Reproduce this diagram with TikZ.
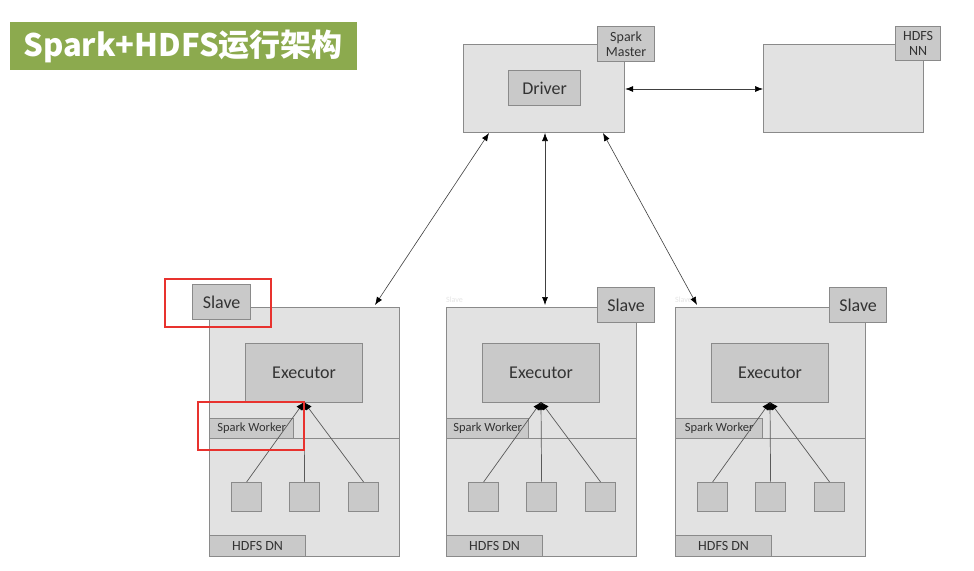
\documentclass[tikz,border=0pt]{standalone}
\usepackage{fontspec}
\setmainfont{Carlito}
\newfontfamily\cjk{Noto Sans CJK SC}
\usetikzlibrary{arrows.meta}
\definecolor{titlegreen}{HTML}{8CAA4E}
\definecolor{boxfill}{HTML}{E2E2E2}
\definecolor{innerfill}{HTML}{C9C9C9}
\definecolor{edgegray}{HTML}{8A8A8A}
\definecolor{txtgray}{HTML}{333333}
\definecolor{hlred}{HTML}{E8322E}
\tikzset{
  outerbox/.style={draw=edgegray, fill=boxfill, line width=1.2pt},
  innerbox/.style={draw=edgegray, fill=innerfill, line width=1.2pt, text=txtgray, inner sep=0pt, align=center},
  conn/.style={draw=black!75, line width=0.6pt, {Latex[length=8pt,width=6pt,color=black]}-{Latex[length=8pt,width=6pt,color=black]}},
  treeline/.style={draw=black!65, line width=0.7pt, -{Latex[length=8pt,width=7pt,color=black]}},
  redbox/.style={draw=hlred, line width=2pt},
  faint/.style={text=black!10, font=\fontsize{8}{8}\selectfont, inner sep=0pt}
}
\newcommand{\slaveunit}[2]{% prefix, x offset (left of box)
  \begin{scope}[shift={(#2,0)}]
    \node[outerbox, anchor=north west, minimum width=190, minimum height=249, inner sep=0pt] (#1box) at (0,307) {};
    \draw[draw=edgegray, line width=0.8pt] (0,438) -- (190,438);
    \node[innerbox, anchor=north west, minimum width=117, minimum height=59, font=\fontsize{18}{18}\selectfont] (#1exec) at (36,343) {Executor};
    \node[innerbox, anchor=north west, minimum width=30, minimum height=29] (#1s1) at (22,482) {};
    \node[innerbox, anchor=north west, minimum width=30, minimum height=29] (#1s2) at (80,482) {};
    \node[innerbox, anchor=north west, minimum width=30, minimum height=29] (#1s3) at (139,482) {};
    \node[innerbox, anchor=north west, minimum width=96, minimum height=21, font=\fontsize{14}{14}\selectfont] (#1dn) at (0,535) {HDFS DN};
    \coordinate (#1join) at (95,402);
  \end{scope}
}
\newcommand{\slavetree}[1]{%
    \draw[treeline] (#1s1.north) -- (#1join);
    \draw[treeline] (#1s2.north) -- (#1join);
    \draw[treeline] (#1s3.north) -- (#1join);
}
\begin{document}
\begin{tikzpicture}[x=1pt,y=-1pt]
\useasboundingbox[fill=white] (0,0) rectangle (974,570);
% title
\node[fill=titlegreen, anchor=north west, minimum width=347, minimum height=48, inner sep=0pt] (title) at (10,22) {};
\node[text=white, font=\cjk\bfseries\fontsize{31}{31}\selectfont, anchor=center] (titletext) at (183,46) {Spark+HDFS运行架构};

% master
\node[outerbox, anchor=north west, minimum width=161, minimum height=88, inner sep=0pt] (master) at (463,44) {};
\node[innerbox, anchor=north west, minimum width=72, minimum height=35, font=\fontsize{18}{18}\selectfont] (driver) at (508,70) {Driver};
\node[innerbox, anchor=north west, minimum width=57, minimum height=35, font=\fontsize{14}{15}\selectfont] (masterlbl) at (597,26) {Spark\\Master};

% HDFS NN
\node[outerbox, anchor=north west, minimum width=160, minimum height=88, inner sep=0pt] (nn) at (763,44) {};
\node[innerbox, anchor=north west, minimum width=45, minimum height=34, font=\fontsize{14}{15}\selectfont] (nnlbl) at (895,26) {HDFS\\NN};

\draw[conn] (master.east |- 0,89) -- (nn.west |- 0,89);

% slaves
\slaveunit{a}{209}
\slaveunit{b}{446}
\slaveunit{c}{675}

% Spark worker labels
\node[innerbox, anchor=north west, minimum width=84, minimum height=20, font=\fontsize{12.5}{12}\selectfont] (awork) at (209,418) {Spark Worker};
\node[innerbox, anchor=north west, minimum width=82, minimum height=20, font=\fontsize{12.5}{12}\selectfont] (bwork) at (446,418) {Spark Worker};
\node[innerbox, anchor=north west, minimum width=87, minimum height=20, font=\fontsize{12.5}{12}\selectfont] (cwork) at (675,418) {Spark Worker};

\slavetree{a}
\slavetree{b}
\slavetree{c}

% slave labels
\node[innerbox, anchor=north west, minimum width=58, minimum height=35, font=\fontsize{18}{18}\selectfont] (alabel) at (192,284) {Slave};
\node[innerbox, anchor=north west, minimum width=57, minimum height=35, font=\fontsize{18}{18}\selectfont] (blabel) at (597,287) {Slave};
\node[innerbox, anchor=north west, minimum width=57, minimum height=35, font=\fontsize{18}{18}\selectfont] (clabel) at (829,287) {Slave};

% faint ghost labels
\node[faint, anchor=west] (bghost) at (446,300) {Slave};
\node[faint, anchor=west] (cghost) at (675,300) {Slave};

% connectors master -> slaves
\coordinate (m1) at (489,133);
\coordinate (m2) at (545,133);
\coordinate (m3) at (603,133);
\coordinate (t1) at (375,305);
\coordinate (t2) at (545,305);
\coordinate (t3) at (697,305);
\draw[conn] (m1) -- (t1);
\draw[conn] (m2) -- (t2);
\draw[conn] (m3) -- (t3);

% red highlights
\node[redbox, anchor=north west, minimum width=106, minimum height=48, inner sep=0pt] (red1) at (164,278) {};
\node[redbox, anchor=north west, minimum width=106, minimum height=48, inner sep=0pt] (red2) at (197,401) {};
\end{tikzpicture}
\end{document}
